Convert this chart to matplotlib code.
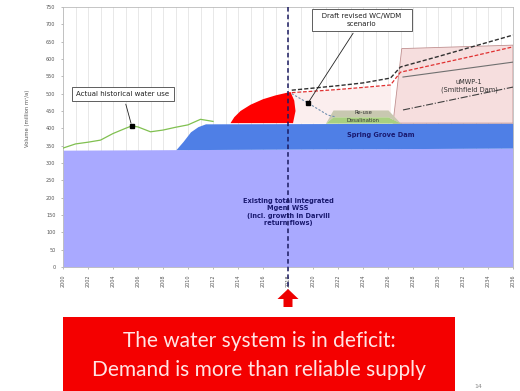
import numpy as np
import matplotlib.pyplot as plt
from matplotlib.patches import Rectangle, FancyArrow

# axis ranges
years = np.arange(2000, 2037, 2)
y_ticks = np.arange(0, 751, 50)

# existing integrated Mgeni WSS yield (incl. Darvill return flow growth)
base_years = [2000, 2036]
base_yield = [337, 343]

# Spring Grove Dam addition (top of band)
sg_years = [2009.0, 2009.6, 2010.2, 2010.8, 2011.4, 2036]
sg_top = [337, 362, 390, 405, 413, 415]

# actual historical water use
hist_years = [2000, 2001, 2002, 2003, 2004, 2005, 2005.5, 2006, 2007, 2008, 2009, 2010, 2011, 2012]
hist_use = [343, 355, 360, 366, 385, 400, 407, 404, 390, 395, 403, 410, 426, 420]

# deficit outline (demand above reliable supply)
def_years = [2013.4, 2013.7, 2014.2, 2015.0, 2016.0, 2017.0, 2018.2, 2018.5, 2018.6, 2018.4]
def_vals = [415, 432, 450, 468, 484, 495, 505, 480, 450, 415]

# draft revised WC/WDM scenario
wdm_years = [2018.3, 2019.6, 2021.2, 2021.8]
wdm_vals = [500, 473, 438, 433]

# projected demand lines
proj_years = [2018.3, 2020, 2022, 2024, 2026.2, 2027.0, 2030, 2033, 2036]
proj_high = [510, 516, 523, 531, 545, 577, 607, 638, 669]
proj_red = [503, 507, 512, 518, 525, 562, 586, 610, 635]

# lines inside the uMWP-1 block
umwp_years = [2027.2, 2036]
umwp_mid = [548, 591]
umwp_low = [453, 519]

# interim schemes block
int_years = [2021.0, 2021.6, 2026.0, 2027.0]
int_top = [415, 453, 453, 415]
int_mid = [415, 433, 433, 415]

# uMWP-1 (Smithfield Dam) block outline
umwp_bx = [2026.4, 2027.1, 2036, 2036]
umwp_by = [415, 630, 640, 415]

fig = plt.figure(figsize=(5.2, 3.91), dpi=100)
ax = fig.add_axes([63 / 520, 1 - 267 / 391, 450 / 520, 260 / 391])
ax.set_xlim(2000, 2036)
ax.set_ylim(0, 750)

for yr in range(2000, 2037):
    ax.axvline(yr, color='#dedede', lw=0.5, zorder=0)

ax.fill_between(base_years, 0, base_yield, color='#a9a9ff', lw=0, zorder=1)
sg_base = np.interp(sg_years, base_years, base_yield)
ax.fill_between(sg_years, sg_base, sg_top, color='#4f7fe6', lw=0, zorder=1)

# light pink zone after the current year
ax.fill_between(proj_years[:5], 415, proj_red[:5], color='#fbeeee', lw=0, zorder=1)

ax.fill(umwp_bx, umwp_by, facecolor='#f6dede', edgecolor='#c09090', lw=0.6, zorder=2)
ax.fill_between(int_years, int_mid, int_top, color='#c8c8b0', lw=0, zorder=2)
ax.fill_between(int_years, 415, int_mid, color='#a8d080', lw=0, zorder=2)

ax.fill(def_years, def_vals, color='#ff0000', lw=0, zorder=3)

ax.plot(hist_years, hist_use, color='#80c050', lw=0.9, zorder=4)
ax.plot(wdm_years, wdm_vals, color='#7090b0', lw=0.8, ls=(0, (2, 1.5)), zorder=4)
ax.plot(proj_years, proj_red, color='#e03030', lw=0.9, ls=(0, (3, 1.5)), zorder=4)
ax.plot(proj_years, proj_high, color='#303030', lw=1.0, ls=(0, (3, 1.5)), zorder=4)
ax.plot(umwp_years, umwp_mid, color='#707070', lw=0.8, zorder=4)
ax.plot(umwp_years, umwp_low, color='#404040', lw=0.8, ls='-.', zorder=4)

# current year marker, running down past the axis
ax.plot([2018, 2018], [750, -85], color='#1a1a60', lw=1.1, ls=(0, (3, 2)),
        clip_on=False, zorder=6)

ax.text(2018, 159, 'Existing total integrated\nMgeni WSS\n(incl. growth in Darvill\nreturn flows)',
        ha='center', va='center', fontsize=4.8, color='#1a1a70', fontweight='bold',
        linespacing=1.3, zorder=5)
ax.text(2025.4, 381, 'Spring Grove Dam', ha='center', va='center', fontsize=4.8,
        color='#1a1a70', fontweight='bold', zorder=5)
ax.text(2032.5, 522, 'uMWP-1\n(Smithfield Dam)', ha='center', va='center', fontsize=4.8,
        color='#333333', zorder=5)
ax.text(2024, 445, 'Re-use', ha='center', va='center', fontsize=3.8, color='#333333', zorder=5)
ax.text(2024, 424, 'Desalination', ha='center', va='center', fontsize=3.8, color='#333333', zorder=5)

ax.annotate('Actual historical water use', xy=(2005.5, 407), xytext=(2004.8, 499),
            ha='center', va='center', fontsize=5, color='#222222',
            bbox=dict(boxstyle='square,pad=0.6', fc='white', ec='#444444', lw=0.6),
            arrowprops=dict(arrowstyle='-', color='#222222', lw=0.6), zorder=7)
ax.plot([2005.5], [407], marker='s', ms=2.5, color='black', zorder=7)

ax.annotate('   Draft revised WC/WDM   \nscenario', xy=(2019.6, 473), xytext=(2023.9, 713),
            ha='center', va='center', fontsize=5, color='#222222', linespacing=1.5,
            bbox=dict(boxstyle='square,pad=0.5', fc='white', ec='#444444', lw=0.6),
            arrowprops=dict(arrowstyle='-', color='#222222', lw=0.6), zorder=7)
ax.plot([2019.6], [473], marker='s', ms=2.5, color='black', zorder=7)

ax.set_xticks(years)
ax.set_xticklabels([str(y) for y in years], rotation=90, fontsize=3.5, color='#555555')
ax.set_yticks(y_ticks)
ax.set_yticklabels([str(v) for v in y_ticks], fontsize=3.5, color='#555555')
ax.tick_params(length=1.5, width=0.4, color='#888888', pad=4)
for s in ax.spines.values():
    s.set_color('#bbbbbb')
    s.set_linewidth(0.6)

fig.text(27 / 520, 1 - 118 / 391, 'Volume (million m³/a)', rotation=90,
         ha='center', va='center', fontsize=3.8, color='#555555')

# call-out below the chart
fig.add_artist(FancyArrow(288 / 520, 1 - 307 / 391, 0, 8 / 391, width=9 / 520,
                          head_width=21 / 520, head_length=10 / 391,
                          length_includes_head=False, transform=fig.transFigure,
                          color='#ee0000', lw=0))
fig.add_artist(Rectangle((63 / 520, 0), 392 / 520, 74 / 391, transform=fig.transFigure,
                         color='#f40000', lw=0))
fig.text(259 / 520, 1 - 341 / 391, 'The water system is in deficit:', ha='center', va='center',
         fontsize=15, color='#ffe4e4', family='Lato')
fig.text(259 / 520, 1 - 370 / 391, 'Demand is more than reliable supply', ha='center',
         va='center', fontsize=15, color='#ffe4e4', family='Lato')
fig.text(478 / 520, 1 - 386 / 391, '14', ha='center', va='center', fontsize=4.5, color='#888888')

fig.savefig('out.png', dpi=100)
